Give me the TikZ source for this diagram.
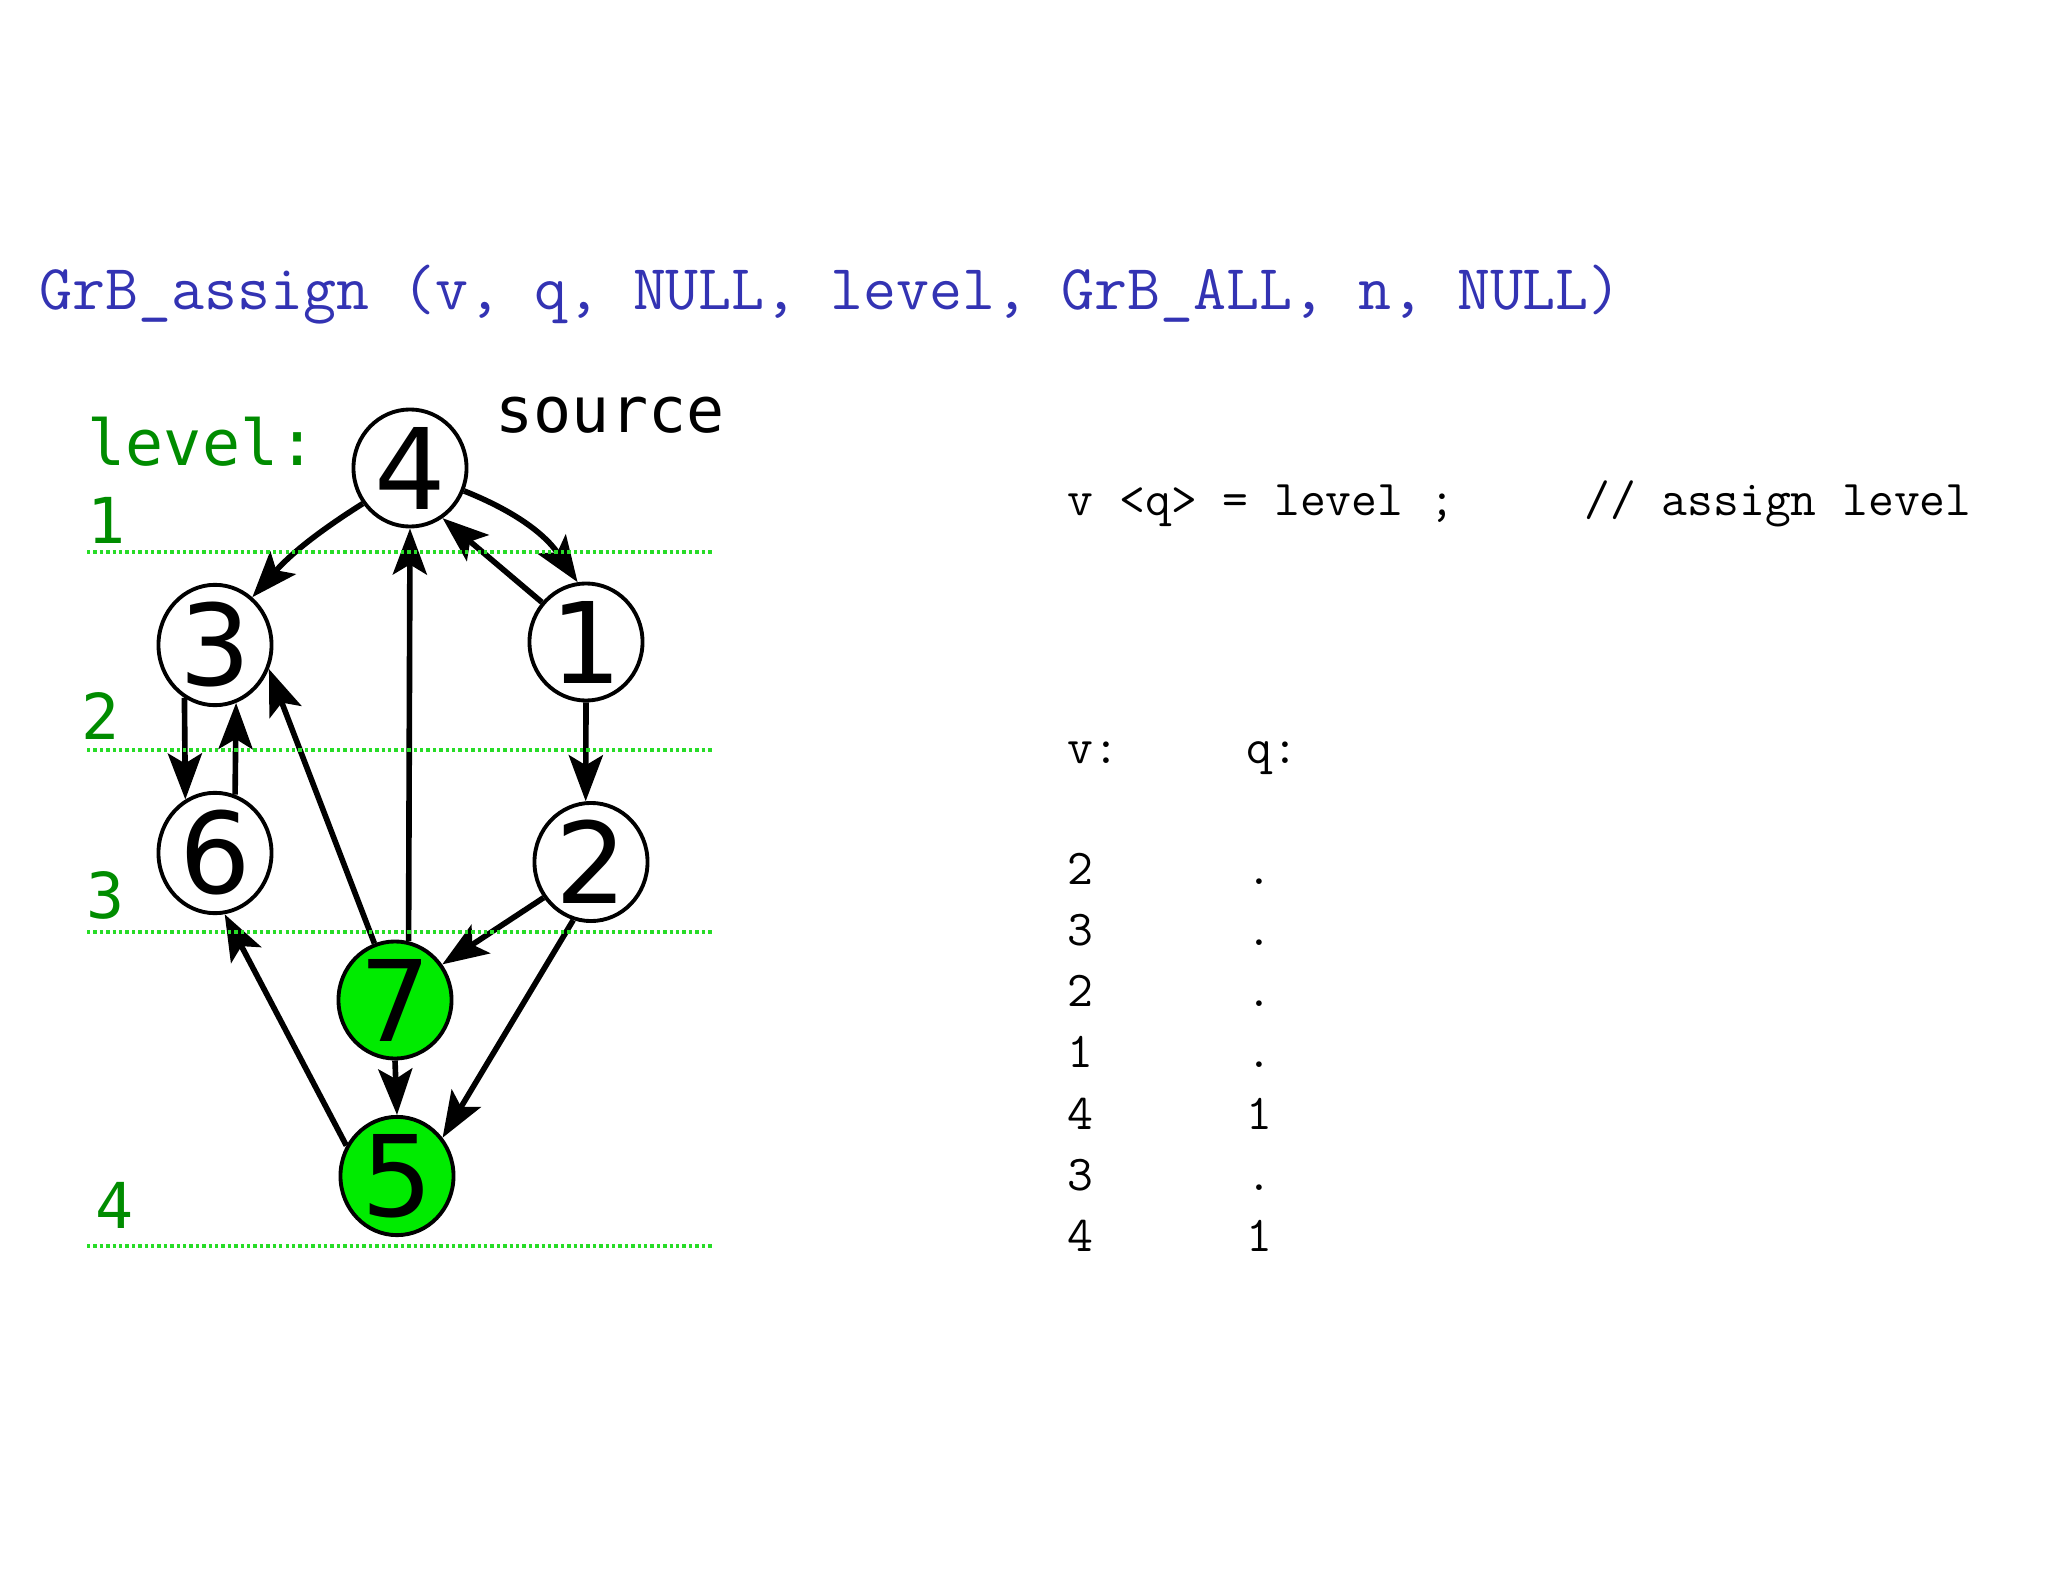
\documentclass[tikz,border=0pt]{standalone}
\usepackage{fontspec}
\newfontfamily\vertexfont{DejaVu Sans}
\newfontfamily\levelfont{DejaVu Sans Mono}
\usetikzlibrary{shapes.geometric, arrows.meta}
\definecolor{callblue}{RGB}{51,51,179}
\definecolor{visitgreen}{RGB}{0,235,0}
\definecolor{levelgreen}{RGB}{40,220,40}
\definecolor{leveltext}{RGB}{0,140,0}

\begin{document}
\begin{tikzpicture}[
    x=0.01cm, y=0.01cm,
    vertex/.style={draw, ellipse, fill=white, line width=1.1pt, minimum width=1.13cm, minimum height=1.17cm, inner sep=0pt, font=\vertexfont\fontsize{32}{32}\selectfont},
    visited/.style={vertex, fill=visitgreen},
    arrow/.style={draw, line width=1.6pt, -{Stealth[length=0.46cm, width=0.34cm, inset=0.1cm]}},
    levelline/.style={draw=levelgreen, line width=1.2pt, dash pattern=on 0.034cm off 0.03cm},
    levellabel/.style={anchor=base west, inner sep=0pt, text=leveltext, font=\levelfont\fontsize{18}{18}\selectfont},
    code/.style={anchor=base west, inner sep=0pt, font=\ttfamily\fontsize{14.26}{16}\selectfont\frenchspacing},
    call/.style={code, text=callblue, font=\ttfamily\fontsize{18.2}{20}\selectfont\frenchspacing}
]
\useasboundingbox (0,0) rectangle (2048,-1582);

\node[call] (call) at (39,-310) {GrB\_assign (v, q, NULL, level, GrB\_ALL, n, NULL)};

\node[levellabel] (levelhead) at (87,-465) {level:};
\node[levellabel, text=black] (source) at (495,-432) {source};
\node[levellabel] (lev1) at (87,-543) {1};
\node[levellabel] (lev2) at (81,-739) {2};
\node[levellabel] (lev3) at (86,-918) {3};
\node[levellabel] (lev4) at (95,-1228) {4};

\node[vertex] (n4) at (410,-468) {4};
\node[vertex] (n3) at (215,-645) {3};
\node[vertex] (n1) at (586,-642) {1};
\node[vertex] (n6) at (215,-853) {6};
\node[vertex] (n2) at (591,-862) {2};
\node[visited] (n7) at (395,-1000) {7};
\node[visited] (n5) at (397,-1176) {5};

\draw[arrow] (n4.217) to[bend right=8] (n3.52);
\draw[arrow] (n4.337) to[bend left=17] (n1.98);
\draw[arrow] (n1.138) -- (n4.303);
\draw[arrow] (n7.77) -- (n4.south);
\draw[arrow] (n3.240) -- (n6.119);
\draw[arrow] (n6.71) -- (n3.290);
\draw[arrow] (n7.110) -- (n3.336);
\draw[arrow] (n1.south) -- (n2.95);
\draw[arrow] (n2.217) -- (n7.37);
\draw[arrow] (n2.253) -- (n5.40);
\draw[arrow] (n7.south) -- (n5.north);
\draw[arrow] (n5.149) -- (n6.279);

\foreach \y in {552, 750, 932, 1246}
    \draw[levelline] (87,-\y) -- (712,-\y);

\node[code] (assign) at (1067,-515) {v <q> = level ;\ \ \ \ \ // assign level};
\node[code] (vhead) at (1067,-763) {v:};
\node[code] (qhead) at (1246,-763) {q:};
\foreach \vv/\qq [count=\i] in {2/., 3/., 2/., 1/., 4/1, 3/., 4/1} {
    \node[code] (vrow\i) at (1067,{-884-61.3*(\i-1)}) {\vv};
    \node[code] (qrow\i) at (1246,{-884-61.3*(\i-1)}) {\qq};
}

\end{tikzpicture}
\end{document}
